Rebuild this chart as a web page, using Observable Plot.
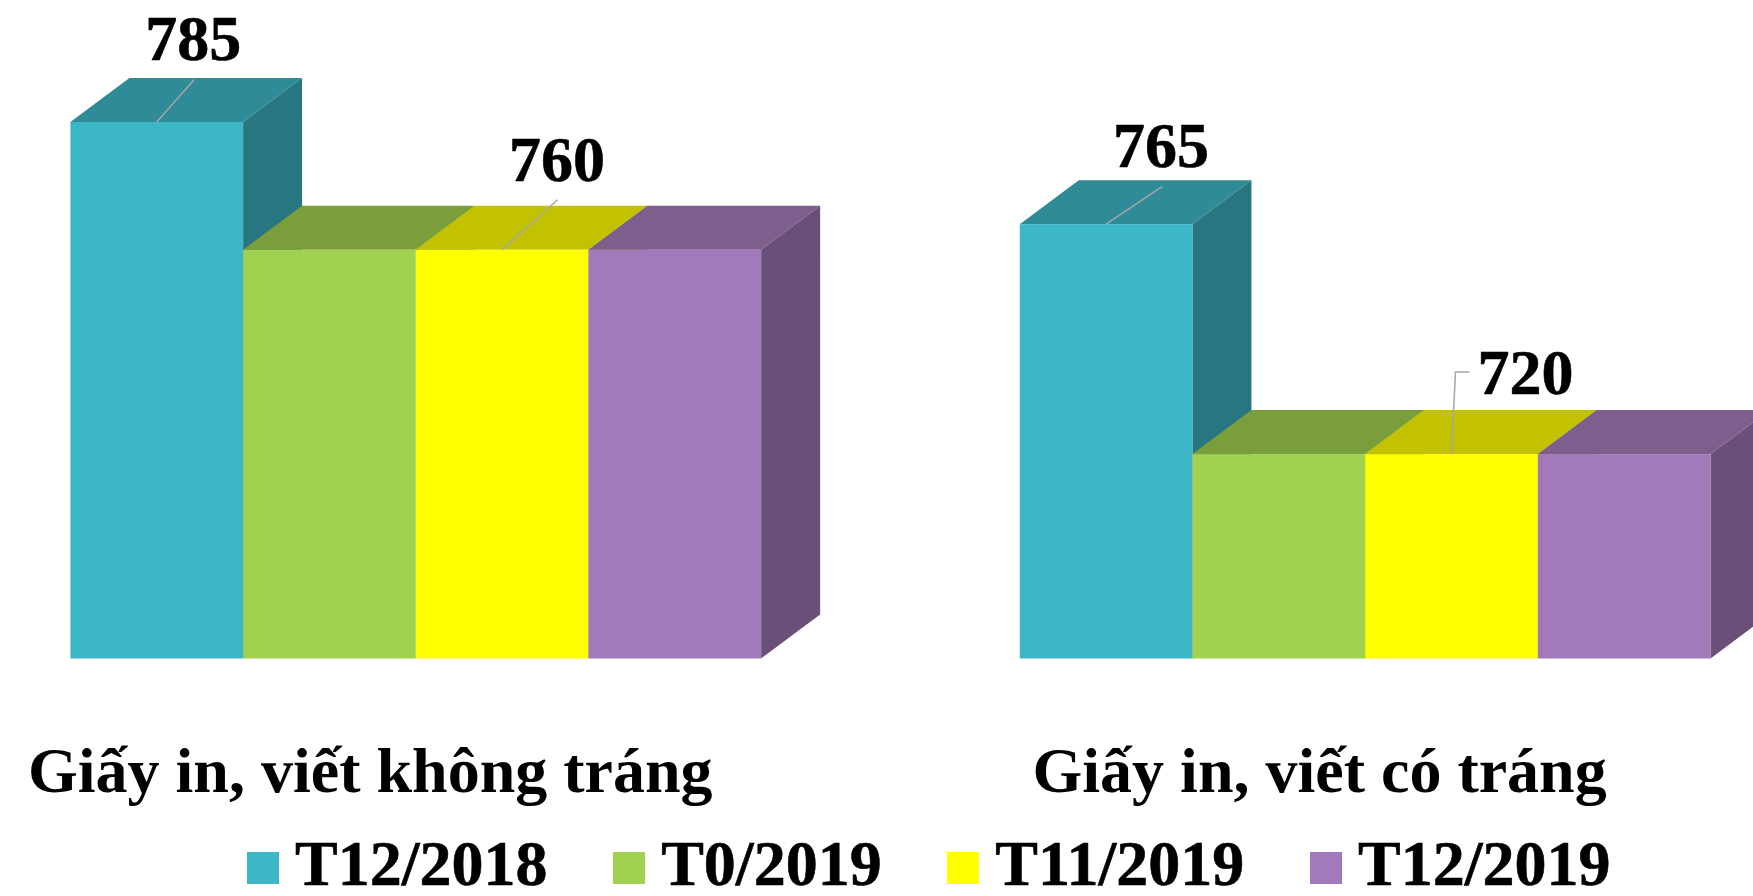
<!DOCTYPE html>
<html>
<head>
<meta charset="utf-8">
<script src="https://cdn.jsdelivr.net/npm/d3@7"></script>
<script src="https://cdn.jsdelivr.net/npm/@observablehq/plot@0.6"></script>
<style>
html,body{margin:0;padding:0;background:#fff;overflow:hidden}
#legend{display:flex;align-items:flex-end;height:56px;padding-left:247px;gap:65.7px;font:bold 64px "Liberation Serif",serif;color:#000;line-height:1;-webkit-text-stroke:0.6px #000}
#legend .item{display:flex;align-items:center;gap:16px;white-space:nowrap}
#legend .sw{display:inline-block;width:32px;height:32px;margin-top:8px}
</style>
</head>
<body>
<div id="chart"></div>
<div id="legend"></div>
<script>
const groups = ["Giấy in, viết không tráng", "Giấy in, viết có tráng"];
const seriesNames = ["T12/2018", "T0/2019", "T11/2019", "T12/2019"];
const uncoated = [785, 760, 760, 760];
const coated = [765, 720, 720, 720];
const frontColors = ["#3DB7C7", "#A0D24F", "#FFFF00", "#A279BA"];
const topColors = ["#2F8B97", "#7A9E3B", "#C2C200", "#7D5E8D"];
const sideColors = ["#28767F", "#688632", "#A5A500", "#6A4F78"];
const axisFloor = 680;

const rows = groups.flatMap((group, g) =>
  seriesNames.map((series, s) => ({group, series, s, value: (g === 0 ? uncoated : coated)[s]})));

const FONT = '"Liberation Serif", serif';
const depthX = 59, depthY = -44;
const NS = "http://www.w3.org/2000/svg";

function swap(rect, tag, attrs) {
  const el = document.createElementNS(NS, tag);
  for (const [k, v] of Object.entries(attrs)) el.setAttribute(k, v);
  rect.replaceWith(el);
}
function geom(r) {
  return {x: +r.getAttribute("x") || 0, y: +r.getAttribute("y") || 0,
          w: +r.getAttribute("width"), h: +r.getAttribute("height")};
}
const face = (kind) => (index, scales, values, dims, ctx, next) => {
  const g = next(index, scales, values, dims, ctx);
  g.querySelectorAll("rect").forEach((r) => {
    const {x, y, w, h} = geom(r);
    const pts = kind === "top"
      ? [[x, y], [x + w, y], [x + w + depthX, y + depthY], [x + depthX, y + depthY]]
      : [[x + w, y], [x + w + depthX, y + depthY], [x + w + depthX, y + h + depthY], [x + w, y + h]];
    swap(r, "polygon", {points: pts.join(" "), fill: r.getAttribute("fill")});
  });
  return g;
};
const leader = (bends) => (index, scales, values, dims, ctx, next) => {
  const g = next(index, scales, values, dims, ctx);
  g.querySelectorAll("rect").forEach((r) => {
    const {x, y, w} = geom(r);
    const cx = x + w / 2;
    const pts = [[cx, y], ...bends.map(([a, b]) => [cx + a, y + b])];
    swap(r, "polyline", {points: pts.join(" "), fill: "none", stroke: "#A6A6A6", "stroke-width": 1.5});
  });
  return g;
};
const bar = (extra) => Plot.barY(rows, {fx: "group", x: "series", y1: () => axisFloor, y2: "value", ...extra});
const pick = (g, s) => (d) => d.group === groups[g] && d.series === seriesNames[s];

function callout(g, s, tx, ty, bends) {
  return [
    bar({filter: pick(g, s), fill: "none", render: leader(bends)}),
    Plot.text(rows.filter(pick(g, s)), {
      fx: "group", x: "series", y: "value", text: (d) => String(d.value),
      dx: tx, dy: ty, lineAnchor: "bottom", textAnchor: "middle",
      fontFamily: FONT, fontWeight: "bold", fontSize: 64, fill: "#000",
      stroke: "#000", strokeWidth: 0.6
    })
  ];
}

const plot = Plot.plot({
  width: 1753, height: 840,
  marginLeft: 70.4, marginRight: 42.5, marginTop: 122, marginBottom: 181.5,
  style: {background: "#fff", overflow: "hidden"},
  fx: {domain: groups, paddingInner: 0.2724, paddingOuter: 0, round: false, label: null},
  x: {domain: seriesNames, padding: 0, round: false, axis: null},
  y: {domain: [axisFloor, 785], axis: null},
  marks: [
    bar({fill: (d) => sideColors[d.s], render: face("side")}),
    bar({fill: (d) => topColors[d.s], render: face("top")}),
    bar({fill: (d) => frontColors[d.s]}),
    ...callout(0, 0, 36, -63, [[37.5, -42.5]]),
    ...callout(0, 2, 54.5, -69.5, [[55.5, -50]]),
    ...callout(1, 0, 54.5, -57.5, [[56, -37.5]]),
    ...callout(1, 2, 73.5, -61, [[4, -82], [18, -82]]),
    Plot.axisFx({anchor: "bottom", label: null, tickSize: 0, tickPadding: 88, dx: -46,
      fontFamily: FONT, fontWeight: "bold", fontSize: 64, fill: "#000",
      stroke: "#000", strokeWidth: 0.6})
  ]
});
document.getElementById("chart").append(plot);

const legend = d3.select("#legend");
seriesNames.forEach((name, i) => {
  const item = legend.append("div").attr("class", "item");
  item.append("span").attr("class", "sw").style("background", frontColors[i]);
  item.append("span").text(name);
});
</script>
</body>
</html>
